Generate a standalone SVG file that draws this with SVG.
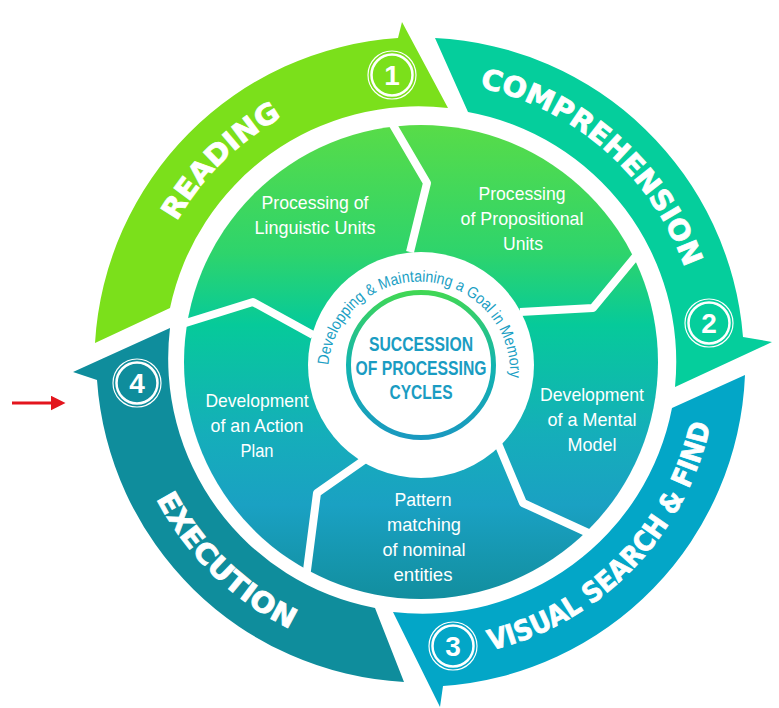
<svg xmlns="http://www.w3.org/2000/svg" width="779" height="708" viewBox="0 0 779 708">
<defs>
<linearGradient id="petalGrad" gradientUnits="userSpaceOnUse" x1="0" y1="125" x2="0" y2="600">
<stop offset="0" stop-color="#58DC48"/>
<stop offset="0.27" stop-color="#2ED46C"/>
<stop offset="0.42" stop-color="#06CA9A"/>
<stop offset="0.65" stop-color="#15AEBA"/>
<stop offset="0.8" stop-color="#1AA1C3"/>
<stop offset="1" stop-color="#128E9E"/>
</linearGradient>
<linearGradient id="ringGrad" gradientUnits="userSpaceOnUse" x1="0" y1="290" x2="0" y2="440">
<stop offset="0" stop-color="#42D852"/>
<stop offset="0.5" stop-color="#12B4B0"/>
<stop offset="1" stop-color="#1A98C0"/>
</linearGradient>
<marker id="redHead" markerWidth="5" markerHeight="5" refX="0.5" refY="2.5" orient="auto" markerUnits="strokeWidth">
<path d="M0,0 L5,2.5 L0,5 Z" fill="#E3151D"/>
</marker>
<path id="pReading" d="M143.3,313.2 A281 281 0 0 1 371.2,85.3"/>
<path id="pComp" d="M420,81 A281 281 0 0 1 701,362"/>
<path id="pVisual" d="M420,659 A297 297 0 0 0 717,362"/>
<path id="pExec" d="M123,362 A297 297 0 0 0 420,659"/>
<path id="pGoal" d="M328.4,365.1 A91 91 0 0 1 509.8,380"/>
</defs>
<style>
.band{font-family:"DejaVu Sans","Liberation Sans",sans-serif;font-weight:bold;font-size:28px;fill:#fff;stroke:#fff;stroke-width:0.8}
.petal{font-family:"Liberation Sans",Arial,sans-serif;font-size:18.5px;fill:#fff;text-anchor:middle}
.num{font-family:"Liberation Sans",Arial,sans-serif;font-weight:bold;font-size:28px;fill:#fff;text-anchor:middle}
.ro{fill:none;stroke:#fff;stroke-width:1.2}
.ri{fill:none;stroke:#fff;stroke-width:2.5}
.sep{fill:none;stroke:#fff;stroke-width:8;stroke-linejoin:round}
.core{font-family:"Liberation Sans",Arial,sans-serif;font-weight:bold;font-size:20.5px;fill:#1A9CC2;text-anchor:middle}
.goal{font-family:"Liberation Sans",Arial,sans-serif;font-size:16px;fill:#1BA0C4}
</style>
<rect width="779" height="708" fill="#fff"/>

<g id="inner-plate">
<circle cx="421" cy="362" r="237" fill="url(#petalGrad)"/>
<path class="sep" d="M386,113 L427,183 L410,252"/>
<path class="sep" d="M645,245 L593,308 L520,312"/>
<path class="sep" d="M497,441 L523,503 L597,537"/>
<path class="sep" d="M367,458 L317,493 L306,578"/>
<path class="sep" d="M176,326 L253,302 L313,335"/>
</g>

<g id="reading">
<path d="M95,343 A325 325 0 0 1 398,38 L402,22 L448,108 A254 254 0 0 0 170,308 Z" fill="#7BE01B"/>
<text class="band"><textPath href="#pReading" startOffset="50.4%" text-anchor="middle" textLength="150" lengthAdjust="spacingAndGlyphs">READING</textPath></text>
<circle class="ro" cx="392" cy="75" r="24"/><circle class="ri" cx="392" cy="75" r="20.5"/>
<text class="num" x="392" y="85">1</text>
</g>

<g id="comprehension">
<path d="M435,38 A325 325 0 0 1 743,337 L772,342 L675,387 A254 254 0 0 0 468,112 Z" fill="#05CE9C"/>
<text class="band"><textPath href="#pComp" startOffset="45.9%" text-anchor="middle" textLength="285" lengthAdjust="spacingAndGlyphs">COMPREHENSION</textPath></text>
<circle class="ro" cx="709" cy="323" r="24"/><circle class="ri" cx="709" cy="323" r="20.5"/>
<text class="num" x="709" y="333">2</text>
</g>

<g id="visual-search">
<path d="M745,375 A325 325 0 0 1 443,686 L440,707 L393,612 A254 254 0 0 0 672,408 Z" fill="#03A6C7"/>
<text class="band"><textPath href="#pVisual" startOffset="50.9%" text-anchor="middle" textLength="332" lengthAdjust="spacingAndGlyphs">VISUAL SEARCH &amp; FIND</textPath></text>
<circle class="ro" cx="453" cy="646" r="24"/><circle class="ri" cx="453" cy="646" r="20.5"/>
<text class="num" x="453" y="656">3</text>
</g>

<g id="execution">
<path d="M404,682 A325 325 0 0 1 97,380 L73,372 L170,328 A254 254 0 0 0 375,608 Z" fill="#0F8D9C"/>
<text class="band"><textPath href="#pExec" startOffset="50.8%" text-anchor="middle" textLength="190" lengthAdjust="spacingAndGlyphs">EXECUTION</textPath></text>
<circle class="ro" cx="137" cy="383" r="24"/><circle class="ri" cx="137" cy="383" r="20.5"/>
<text class="num" x="137" y="393">4</text>
</g>

<g id="linguistic-units">
<text class="petal" x="315" y="209" textLength="107" lengthAdjust="spacingAndGlyphs">Processing of</text>
<text class="petal" x="315" y="234" textLength="121" lengthAdjust="spacingAndGlyphs">Linguistic Units</text>
</g>
<g id="propositional-units">
<text class="petal" x="522" y="200" textLength="87" lengthAdjust="spacingAndGlyphs">Processing</text>
<text class="petal" x="522" y="225" textLength="123" lengthAdjust="spacingAndGlyphs">of Propositional</text>
<text class="petal" x="523" y="250" textLength="40" lengthAdjust="spacingAndGlyphs">Units</text>
</g>
<g id="mental-model">
<text class="petal" x="592" y="401" textLength="104" lengthAdjust="spacingAndGlyphs">Development</text>
<text class="petal" x="592" y="426" textLength="89" lengthAdjust="spacingAndGlyphs">of a Mental</text>
<text class="petal" x="592" y="451" textLength="49" lengthAdjust="spacingAndGlyphs">Model</text>
</g>
<g id="pattern-matching">
<text class="petal" x="423" y="506" textLength="57" lengthAdjust="spacingAndGlyphs">Pattern</text>
<text class="petal" x="424" y="531" textLength="74" lengthAdjust="spacingAndGlyphs">matching</text>
<text class="petal" x="424" y="556" textLength="83" lengthAdjust="spacingAndGlyphs">of nominal</text>
<text class="petal" x="423" y="581" textLength="59" lengthAdjust="spacingAndGlyphs">entities</text>
</g>
<g id="action-plan">
<text class="petal" x="257" y="407" textLength="103" lengthAdjust="spacingAndGlyphs">Development</text>
<text class="petal" x="257" y="432" textLength="93" lengthAdjust="spacingAndGlyphs">of an Action</text>
<text class="petal" x="257" y="457" textLength="33" lengthAdjust="spacingAndGlyphs">Plan</text>
</g>

<g id="center">
<circle cx="421" cy="365" r="113" fill="#fff"/>
<circle cx="421" cy="365" r="72.5" fill="none" stroke="url(#ringGrad)" stroke-width="5"/>
<text class="goal"><textPath href="#pGoal" textLength="283" lengthAdjust="spacingAndGlyphs">Developping &amp; Maintaining a Goal in Memory</textPath></text>
<text class="core" x="421" y="351" textLength="104" lengthAdjust="spacingAndGlyphs">SUCCESSION</text>
<text class="core" x="421" y="375" textLength="131" lengthAdjust="spacingAndGlyphs">OF PROCESSING</text>
<text class="core" x="421" y="399" textLength="63" lengthAdjust="spacingAndGlyphs">CYCLES</text>
</g>

<g id="connectors">
<line x1="12" y1="403" x2="52" y2="403" stroke="#E3151D" stroke-width="3" marker-end="url(#redHead)"/>
</g>
</svg>
